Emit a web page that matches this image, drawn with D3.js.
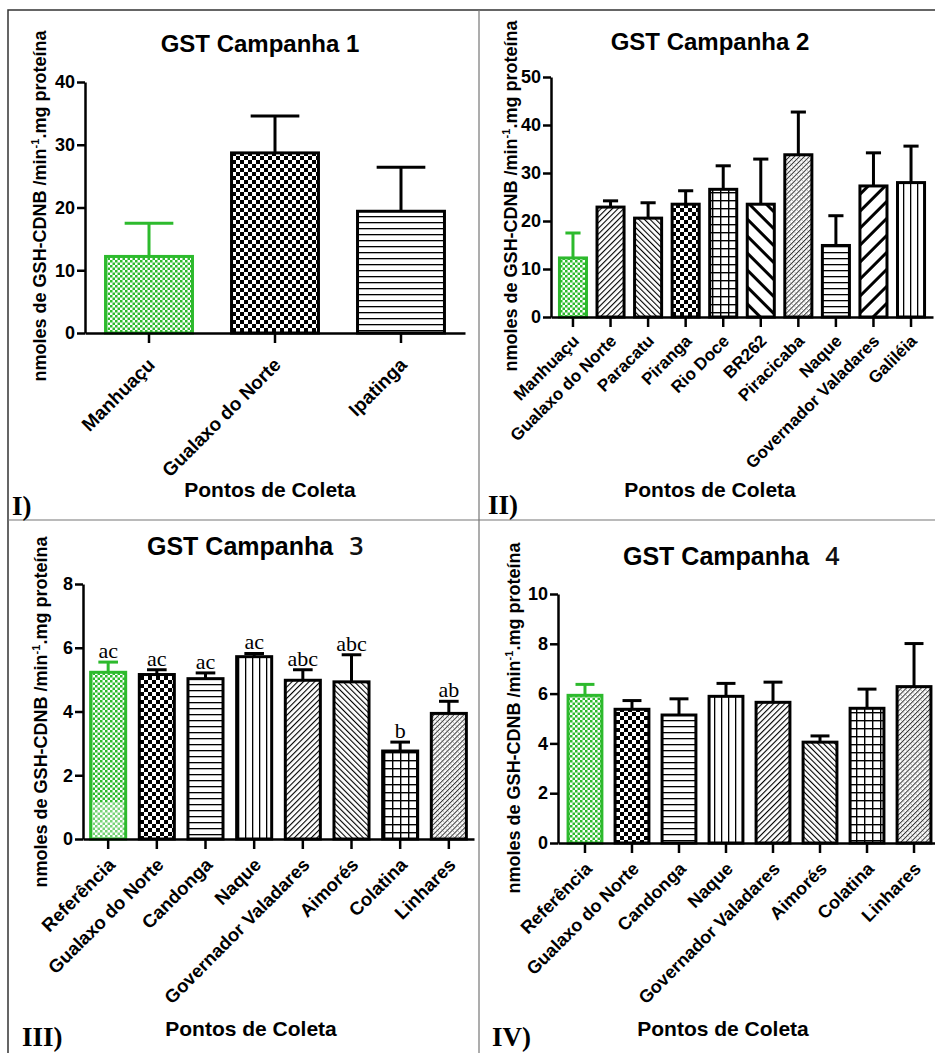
<!DOCTYPE html>
<html lang="pt">
<head>
<meta charset="utf-8">
<title>GST Campanhas 1-4</title>
<script src="https://d3js.org/d3.v7.min.js"></script>
<style>
  body { margin: 0; background: #fff; }
  text { font-family: "Liberation Sans", Arial, sans-serif; }
  .tick text { font-weight: bold; font-size: 18px; }
</style>
</head>
<body>
<svg id="chart" width="935" height="1053"></svg>
<script>
// ---- data ----
const sites1 = ["Manhuaçu", "Gualaxo do Norte", "Ipatinga"];
const means1 = [12.2, 28.7, 19.4];
const sems1  = [5.3, 5.9, 7.0];

const sites2 = ["Manhuaçu", "Gualaxo do Norte", "Paracatu", "Piranga", "Rio Doce",
                "BR262", "Piracicaba", "Naque", "Governador Valadares", "Galiléia"];
const means2 = [12.3, 22.9, 20.6, 23.5, 26.6, 23.5, 33.8, 14.9, 27.3, 28.0];
const sems2  = [5.2, 1.3, 3.2, 2.8, 4.9, 9.4, 8.9, 6.2, 6.9, 7.6];

const sites3 = ["Referência", "Gualaxo do Norte", "Candonga", "Naque",
                "Governador Valadares", "Aimorés", "Colatina", "Linhares"];
const means3 = [5.23, 5.16, 5.03, 5.72, 4.98, 4.93, 2.76, 3.94];
const sems3  = [0.32, 0.15, 0.18, 0.10, 0.33, 0.85, 0.28, 0.38];
const letters3 = ["ac", "ac", "ac", "ac", "abc", "abc", "b", "ab"];

const sites4 = ["Referência", "Gualaxo do Norte", "Candonga", "Naque",
                "Governador Valadares", "Aimorés", "Colatina", "Linhares"];
const means4 = [5.93, 5.37, 5.14, 5.89, 5.65, 4.05, 5.41, 6.28];
const sems4  = [0.44, 0.35, 0.65, 0.52, 0.81, 0.25, 0.77, 1.73];

const GREEN = "#2dba2d";

const svg = d3.select("#chart");
const defs = svg.append("defs");

function pattern(id, w, h, draw, transform) {
  const p = defs.append("pattern").attr("id", id)
    .attr("patternUnits", "userSpaceOnUse").attr("width", w).attr("height", h);
  if (transform) p.attr("patternTransform", transform);
  p.append("rect").attr("width", w).attr("height", h).attr("fill", "#fff");
  draw(p);
}
pattern("green", 5, 5, p => {
  p.append("rect").attr("width", 2.5).attr("height", 2.5).attr("fill", GREEN);
  p.append("rect").attr("x", 2.5).attr("y", 2.5).attr("width", 2.5).attr("height", 2.5).attr("fill", GREEN);
});
pattern("check", 8, 8, p => {
  p.append("rect").attr("width", 4).attr("height", 4).attr("fill", "#000");
  p.append("rect").attr("x", 4).attr("y", 4).attr("width", 4).attr("height", 4).attr("fill", "#000");
});
pattern("hlines", 6, 6, p => p.append("rect").attr("width", 6).attr("height", 1.3).attr("fill", "#000"));
pattern("vlines", 7, 7, p => p.append("rect").attr("width", 1.3).attr("height", 7).attr("fill", "#000"));
pattern("diagR", 4, 4, p => p.append("rect").attr("width", 1.1).attr("height", 4).attr("fill", "#000"), "rotate(45)");
pattern("diagL", 4, 4, p => p.append("rect").attr("width", 1.1).attr("height", 4).attr("fill", "#000"), "rotate(-45)");
pattern("diagCoarseR", 12, 12, p => p.append("rect").attr("width", 3).attr("height", 12).attr("fill", "#000"), "rotate(45)");
pattern("diagCoarseL", 12, 12, p => p.append("rect").attr("width", 3).attr("height", 12).attr("fill", "#000"), "rotate(-45)");
pattern("grid", 8, 8, p => {
  p.append("rect").attr("width", 1.4).attr("height", 8).attr("fill", "#000");
  p.append("rect").attr("width", 8).attr("height", 1.4).attr("fill", "#000");
});
pattern("dense", 3.5, 3.5, p => {
  p.append("rect").attr("width", 1).attr("height", 3.5).attr("fill", "#333");
  p.append("rect").attr("x", 2).attr("y", 1).attr("width", 0.8).attr("height", 0.8).attr("fill", "#777");
}, "rotate(45)");

// ---- panel frame ----
svg.append("path").attr("d", "M8,1053V10H935").attr("fill", "none").attr("stroke", "#333").attr("stroke-width", 1.5);
svg.append("path").attr("d", "M479,10V1053M8,520H935").attr("fill", "none").attr("stroke", "#777").attr("stroke-width", 1.2);

const panels = [
  { sites: sites1, means: means1, sems: sems1, pats: ["green", "check", "hlines"],
    axisX: 85, axisEnd: 465, y0: 333, yTop: 82, yMax: 40, yStep: 10, padIn: 0.31, padOut: 0.163,
    title: "GST Campanha 1", titleX: 260, titleY: 52, xlabX: 270, xlabY: 497,
    ytX: 46, ytY: 206, tag: "I)", tagX: 12, tagY: 515, lab: 19, labDx: 7, labDy: 33 },
  { sites: sites2, means: means2, sems: sems2,
    pats: ["green", "diagR", "diagL", "check", "grid", "diagCoarseL", "dense", "hlines", "diagCoarseR", "vlines"],
    axisX: 551, axisEnd: 933, y0: 317, yTop: 77, yMax: 50, yStep: 10, padIn: 0.28, padOut: 0.225,
    title: "GST Campanha 2", titleX: 710, titleY: 50, xlabX: 710, xlabY: 497,
    ytX: 517, ytY: 196, tag: "II)", tagX: 488, tagY: 514, lab: 17, labDx: 7, labDy: 25 },
  { sites: sites3, means: means3, sems: sems3, letters: letters3,
    pats: ["green", "check", "hlines", "vlines", "diagR", "diagL", "grid", "dense"],
    axisX: 83, axisEnd: 474, y0: 839, yTop: 584, yMax: 8, yStep: 2, padIn: 0.28, padOut: 0.157,
    title: "GST Campanha", num: "3", titleStart: 147, titleY: 555, xlabX: 251, xlabY: 1036,
    ytX: 47, ytY: 712, tag: "III)", tagX: 22, tagY: 1046, lab: 18.5, labDx: 8, labDy: 27, fade: 1.15 },
  { sites: sites4, means: means4, sems: sems4,
    pats: ["green", "check", "hlines", "vlines", "diagR", "diagL", "grid", "dense"],
    axisX: 558, axisEnd: 941, y0: 843, yTop: 594, yMax: 10, yStep: 2, padIn: 0.28, padOut: 0.214,
    title: "GST Campanha", num: "4", titleStart: 623, titleY: 565, xlabX: 723, xlabY: 1036,
    ytX: 520, ytY: 718, tag: "IV)", tagX: 492, tagY: 1046, lab: 18, labDx: 8, labDy: 27 }
];

function drawPanel(p) {
  const g = svg.append("g");
  const x = d3.scaleBand().domain(p.sites).range([p.axisX, p.axisEnd])
    .paddingInner(p.padIn).paddingOuter(p.padOut);
  const y = d3.scaleLinear().domain([0, p.yMax]).range([p.y0, p.yTop]);
  const bw = x.bandwidth();
  const col = i => p.pats[i] === "green" ? GREEN : "#000";

  // error bars (drawn first so the bar outline covers the stem base)
  const eb = g.selectAll(".err").data(p.sites).join("g").attr("class", "err");
  eb.append("line")
    .attr("x1", d => x(d) + bw / 2).attr("x2", d => x(d) + bw / 2)
    .attr("y1", (d, i) => y(p.means[i])).attr("y2", (d, i) => y(p.means[i] + p.sems[i]))
    .attr("stroke", (d, i) => col(i)).attr("stroke-width", 3);
  eb.append("line")
    .attr("x1", d => x(d) + bw * 0.22).attr("x2", d => x(d) + bw * 0.78)
    .attr("y1", (d, i) => y(p.means[i] + p.sems[i])).attr("y2", (d, i) => y(p.means[i] + p.sems[i]))
    .attr("stroke", (d, i) => col(i)).attr("stroke-width", 3);

  g.selectAll(".bar").data(p.sites).join("rect").attr("class", "bar")
    .attr("x", d => x(d)).attr("width", bw)
    .attr("y", (d, i) => y(p.means[i])).attr("height", (d, i) => y(0) - y(p.means[i]))
    .attr("fill", (d, i) => `url(#${p.pats[i]})`)
    .attr("stroke", (d, i) => col(i)).attr("stroke-width", 3);

  if (p.fade) {
    g.append("rect").attr("x", x(p.sites[0]) + 1.5).attr("width", bw - 3)
      .attr("y", y(p.fade)).attr("height", y(0) - y(p.fade) - 1.5)
      .attr("fill", "#fff").attr("opacity", 0.35);
  }

  if (p.letters) {
    g.selectAll(".letter").data(p.sites).join("text").attr("class", "letter")
      .attr("x", d => x(d) + bw / 2).attr("y", (d, i) => y(p.means[i] + p.sems[i]) - 4)
      .attr("text-anchor", "middle")
      .style("font-family", '"Liberation Serif", "Times New Roman", serif').style("font-size", "22px")
      .text((d, i) => p.letters[i]);
  }

  // axes
  const ya = g.append("g").attr("transform", `translate(${p.axisX},0)`)
    .call(d3.axisLeft(y).tickValues(d3.range(0, p.yMax + 1e-9, p.yStep)).tickSize(8).tickPadding(2).tickSizeOuter(0));
  const xa = g.append("g").attr("transform", `translate(0,${p.y0})`)
    .call(d3.axisBottom(x).tickSize(10).tickSizeOuter(0).tickFormat(""));
  [ya, xa].forEach(a => {
    a.select(".domain").attr("stroke", "#000").attr("stroke-width", 2.5);
    a.selectAll(".tick line").attr("stroke", "#000").attr("stroke-width", 2.5);
  });
  ya.selectAll(".tick text").attr("fill", "#000");

  g.selectAll(".xlab").data(p.sites).join("text").attr("class", "xlab")
    .attr("transform", d => `translate(${x(d) + bw / 2 + p.labDx},${p.y0 + p.labDy}) rotate(-45)`)
    .attr("text-anchor", "end")
    .style("font-weight", "bold").style("font-size", p.lab + "px")
    .text(d => d);

  // titles
  if (p.num) {
    const t = g.append("text").attr("x", p.titleStart).attr("y", p.titleY)
      .style("font-weight", "bold").style("font-size", "25px").text(p.title);
    t.append("tspan").attr("dx", 16)
      .style("font-weight", "600").style("font-family", "\"Open Sans\", sans-serif").attr("fill", "#111")
      .text(p.num);
  } else {
    g.append("text").attr("x", p.titleX).attr("y", p.titleY).attr("text-anchor", "middle")
      .style("font-weight", "bold").style("font-size", "24px").text(p.title);
  }
  g.append("text").attr("x", p.xlabX).attr("y", p.xlabY).attr("text-anchor", "middle")
    .style("font-weight", "bold").style("font-size", "21px").text("Pontos de Coleta");

  const yt = g.append("text").attr("transform", `translate(${p.ytX},${p.ytY}) rotate(-90)`)
    .attr("text-anchor", "middle").style("font-weight", "bold").style("font-size", "18px");
  yt.append("tspan").text("nmoles de GSH-CDNB /min");
  yt.append("tspan").attr("dy", -7).style("font-size", "11px").text("-1");
  yt.append("tspan").attr("dy", 7).text(".mg proteína");

  g.append("text").attr("x", p.tagX).attr("y", p.tagY)
    .style("font-family", '"Liberation Serif", "Times New Roman", serif')
    .style("font-weight", "bold").style("font-size", "27px").text(p.tag);
}

panels.forEach(drawPanel);
</script>
</body>
</html>
